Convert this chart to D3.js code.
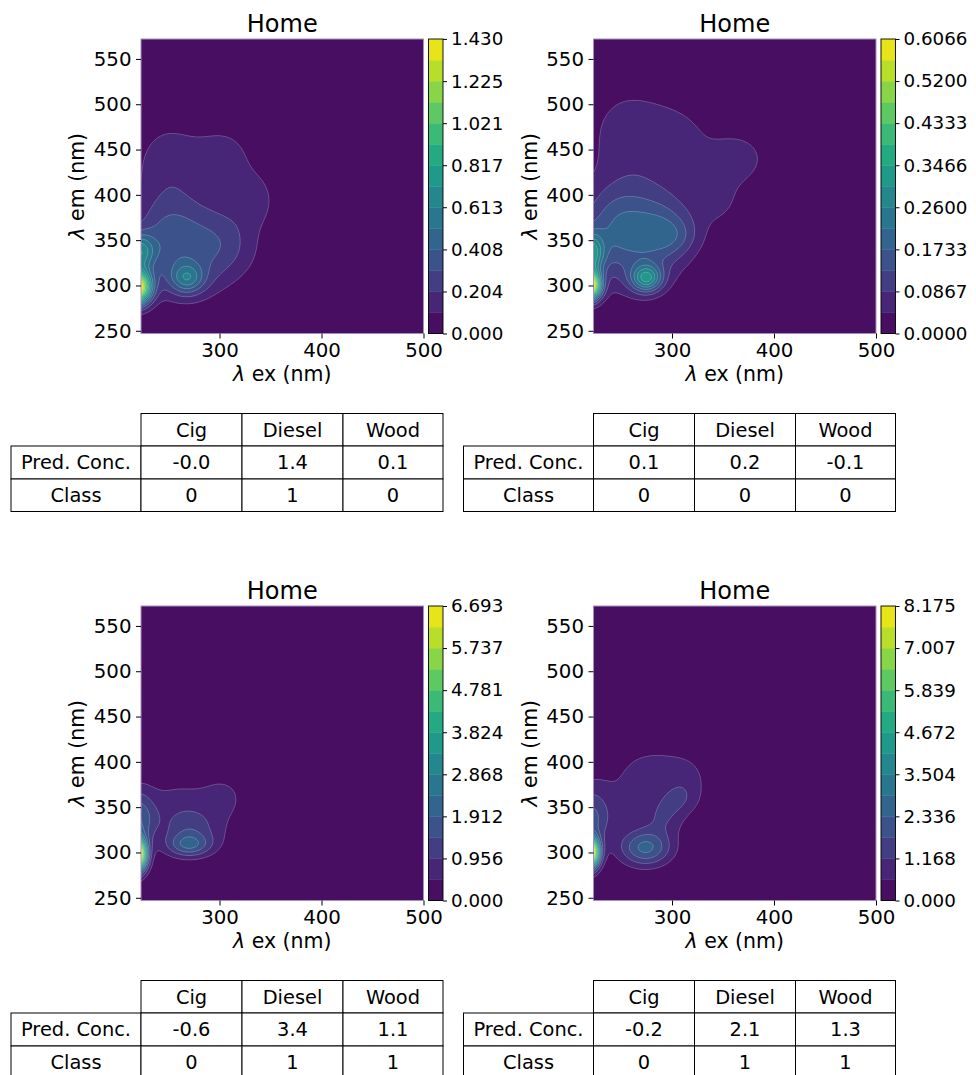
<!DOCTYPE html>
<html>
<head>
<meta charset="utf-8">
<script src="https://cdn.jsdelivr.net/npm/d3@7"></script>
<style>
  body { margin: 0; background: #ffffff; }
  svg text { font-family: "DejaVu Sans", sans-serif; fill: #000; }
</style>
</head>
<body>
<svg id="fig" width="976" height="1075"></svg>
<script>
// ---- axes ----
const exRange = [223, 500];          // excitation wavelength (nm)
const emRange = [247, 572];          // emission wavelength (nm)
const xTicks = [300, 400, 500];
const yTicks = [250, 300, 350, 400, 450, 500, 550];

// ---- panels ----
const panelTitles = ["Home", "Home", "Home", "Home"];
const colorMax = [1.4296, 0.6066, 6.693, 8.175];
const cbarLabels1 = ["0.000", "0.204", "0.408", "0.613", "0.817", "1.021", "1.225", "1.430"];
const cbarLabels2 = ["0.0000", "0.0867", "0.1733", "0.2600", "0.3466", "0.4333", "0.5200", "0.6066"];
const cbarLabels3 = ["0.000", "0.956", "1.912", "2.868", "3.824", "4.781", "5.737", "6.693"];
const cbarLabels4 = ["0.000", "1.168", "2.336", "3.504", "4.672", "5.839", "7.007", "8.175"];

// fluorescence components of each EEM: [ex, em, sdEx, sdEm, height]
const peaks1 = [
  [218, 298, 10, 13, 1.53],
  [220, 337, 11, 14, 0.55],
  [268, 308, 11, 11, 0.33],
  [270, 305, 20, 18, 0.12],
  [250, 350, 25, 35, 0.33],
  [300, 345, 26, 30, 0.26],
  [250, 435, 25, 35, 0.15],
  [305, 435, 22, 30, 0.15],
  [335, 395, 14, 20, 0.13]
];
const peaks2 = [
  [218, 300, 8, 11, 0.67],
  [220, 335, 9, 16, 0.27],
  [275, 308, 10, 10, 0.22],
  [275, 308, 16, 15, 0.05],
  [300, 355, 18, 14, 0.05],
  [250, 360, 28, 38, 0.18],
  [295, 360, 22, 30, 0.11],
  [255, 468, 28, 38, 0.06],
  [305, 455, 28, 35, 0.058],
  [365, 440, 20, 20, 0.065],
  [345, 395, 18, 22, 0.05]
];
const peaks3 = [
  [218, 298, 7, 13, 8.35],
  [220, 335, 12, 17, 1.4],
  [220, 360, 10, 15, 0.4],
  [270, 308, 15, 9, 1.5],
  [270, 325, 16, 15, 0.65],
  [262, 345, 35, 28, 0.7],
  [305, 362, 14, 16, 0.4],
  [295, 320, 14, 16, 0.2]
];
const peaks4 = [
  [218, 300, 7, 12, 10.16],
  [220, 335, 14, 18, 1.5],
  [220, 360, 12, 18, 0.45],
  [274, 305, 18, 14, 2.4],
  [292, 338, 14, 14, 0.75],
  [306, 358, 14, 12, 0.65],
  [262, 360, 35, 30, 0.6],
  [285, 400, 30, 20, 0.45],
  [315, 378, 15, 18, 0.55]
];

// ---- prediction tables ----
const sources = ["Cig", "Diesel", "Wood"];
const rowLabels = ["Pred. Conc.", "Class"];
const predConc1 = ["-0.0", "1.4", "0.1"];
const predConc2 = ["0.1", "0.2", "-0.1"];
const predConc3 = ["-0.6", "3.4", "1.1"];
const predConc4 = ["-0.2", "2.1", "1.3"];
const class1 = ["0", "1", "0"];
const class2 = ["0", "0", "0"];
const class3 = ["0", "1", "1"];
const class4 = ["0", "1", "1"];

const panels = [
  { title: panelTitles[0], max: colorMax[0], labels: cbarLabels1, peaks: peaks1, conc: predConc1, cls: class1, left: 141, top: 39 },
  { title: panelTitles[1], max: colorMax[1], labels: cbarLabels2, peaks: peaks2, conc: predConc2, cls: class2, left: 593.5, top: 39 },
  { title: panelTitles[2], max: colorMax[2], labels: cbarLabels3, peaks: peaks3, conc: predConc3, cls: class3, left: 141, top: 606 },
  { title: panelTitles[3], max: colorMax[3], labels: cbarLabels4, peaks: peaks4, conc: predConc4, cls: class4, left: 593.5, top: 606 }
];

const W = 282.5, H = 294.5;
const nLevels = 15;
const svg = d3.select("#fig");
const defs = svg.append("defs");
defs.append("clipPath").attr("id", "plotClip")
  .append("rect").attr("width", W).attr("height", H);

const x = d3.scaleLinear().domain(exRange).range([0, W]);
const y = d3.scaleLinear().domain(emRange).range([H, 0]);

// sample grid, padded past the axes so contour edges fall outside the view
const step = 1, pad = 10;
const gx0 = exRange[0] - pad, gx1 = exRange[1] + pad;
const gy0 = emRange[0] - pad, gy1 = emRange[1] + pad;
const nx = Math.round((gx1 - gx0) / step) + 1;
const ny = Math.round((gy1 - gy0) / step) + 1;

function eem(peaks, target) {
  const v = new Float64Array(nx * ny);
  let vmax = 0;
  for (let j = 0; j < ny; j++) {
    const em = gy1 - j * step;
    for (let i = 0; i < nx; i++) {
      const ex = gx0 + i * step;
      let s = 0;
      for (const [px, py, sx, sy, a] of peaks) {
        const dx = (ex - px) / sx, dy = (em - py) / sy;
        s += a * Math.exp(-0.5 * (dx * dx + dy * dy));
      }
      v[j * nx + i] = s;
      if (ex >= exRange[0] && ex <= exRange[1] && em >= emRange[0] && em <= emRange[1]) vmax = Math.max(vmax, s);
    }
  }
  const k = target / vmax;
  for (let n = 0; n < v.length; n++) v[n] = Math.min(v[n] * k, target);
  return v;
}

const gridToScreen = d3.geoTransform({
  point(gxp, gyp) {
    this.stream.point(x(gx0 + (gxp - 0.5) * step), y(gy1 - (gyp - 0.5) * step));
  }
});
const path = d3.geoPath(gridToScreen);

panels.forEach((p) => {
  const g = svg.append("g").attr("transform", `translate(${p.left},${p.top})`);
  const levels = d3.range(nLevels).map(k => p.max * k / (nLevels - 1));
  const bandColor = k => d3.interpolateViridis((k + 0.5) / (nLevels - 1));

  const values = eem(p.peaks, p.max);
  const contours = d3.contours().size([nx, ny]).thresholds(levels.slice(1, nLevels - 1))(values);

  const plot = g.append("g").attr("clip-path", "url(#plotClip)");
  plot.append("rect").attr("width", W).attr("height", H).attr("fill", bandColor(0));
  plot.selectAll("path.band").data(contours).join("path")
    .attr("class", "band")
    .attr("d", path)
    .attr("fill", (d, i) => bandColor(i + 1))
    .attr("stroke", (d, i) => bandColor(i + 1))
    .attr("stroke-width", 0.3);
  plot.selectAll("path.iso").data(contours).join("path")
    .attr("class", "iso")
    .attr("d", path)
    .attr("fill", "none")
    .attr("stroke", "#ffffff")
    .attr("stroke-opacity", 0.4)
    .attr("stroke-width", 0.6);

  g.append("rect").attr("width", W).attr("height", H)
    .attr("fill", "none").attr("stroke", "#a58fc0").attr("stroke-width", 1);

  // axes
  const xAxis = g.append("g").attr("transform", `translate(0,${H})`)
    .call(d3.axisBottom(x).tickValues(xTicks).tickSize(5).tickPadding(4));
  const yAxis = g.append("g")
    .call(d3.axisLeft(y).tickValues(yTicks).tickSize(5).tickPadding(4.5));
  [xAxis, yAxis].forEach(a => {
    a.select(".domain").remove();
    a.selectAll(".tick line").attr("stroke", "#000").attr("stroke-width", 1);
    a.selectAll(".tick text").attr("font-size", 19.8).attr("fill", "#000")
      .style("font-family", "DejaVu Sans");
  });

  g.append("text").attr("x", W / 2).attr("y", -7.5).attr("text-anchor", "middle")
    .attr("font-size", 24).text(p.title);

  const xl = g.append("text").attr("x", W / 2).attr("y", H + 47).attr("text-anchor", "middle")
    .attr("font-size", 20.5);
  xl.append("tspan").attr("font-style", "italic").text("λ");
  xl.append("tspan").text(" ex (nm)");

  const yl = g.append("text").attr("transform", `translate(-57,${H / 2}) rotate(-90)`)
    .attr("text-anchor", "middle").attr("font-size", 20.5);
  yl.append("tspan").attr("font-style", "italic").text("λ");
  yl.append("tspan").text(" em (nm)");

  // colour bar
  const cbX = 287.5, cbW = 14.5;
  const cy = d3.scaleLinear().domain([0, p.max]).range([H, 0]);
  const cb = g.append("g").attr("transform", `translate(${cbX},0)`);
  cb.selectAll("rect.lev").data(d3.range(nLevels - 1)).join("rect")
    .attr("class", "lev")
    .attr("x", 0).attr("width", cbW)
    .attr("y", k => cy(levels[k + 1]))
    .attr("height", k => cy(levels[k]) - cy(levels[k + 1]) + 0.4)
    .attr("fill", k => bandColor(k));
  cb.append("rect").attr("width", cbW).attr("height", H)
    .attr("fill", "none").attr("stroke", "#000").attr("stroke-width", 0.9);
  const cbAxis = cb.append("g").attr("transform", `translate(${cbW},0)`)
    .call(d3.axisRight(cy).tickValues(p.labels.map(Number)).tickSize(4).tickPadding(4)
      .tickFormat((d, i) => p.labels[i]));
  cbAxis.select(".domain").remove();
  cbAxis.selectAll(".tick line").attr("stroke", "#000");
  cbAxis.selectAll(".tick text").attr("font-size", 18.3).attr("fill", "#000")
    .style("font-family", "DejaVu Sans");

  // prediction table
  const colEdges = [-130, 0, 101, 202, 302];
  const rowEdges = [374.5, 407, 440, 472.5];
  const tg = g.append("g");
  const cells = [];
  sources.forEach((s, c) => cells.push({ r: 0, c: c + 1, t: s }));
  [p.conc, p.cls].forEach((vals, r) => {
    cells.push({ r: r + 1, c: 0, t: rowLabels[r] });
    vals.forEach((v, c) => cells.push({ r: r + 1, c: c + 1, t: v }));
  });
  tg.selectAll("rect").data(cells).join("rect")
    .attr("x", d => colEdges[d.c]).attr("y", d => rowEdges[d.r])
    .attr("width", d => colEdges[d.c + 1] - colEdges[d.c])
    .attr("height", d => rowEdges[d.r + 1] - rowEdges[d.r])
    .attr("fill", "#fff").attr("stroke", "#000").attr("stroke-width", 1);
  tg.selectAll("text").data(cells).join("text")
    .attr("x", d => (colEdges[d.c] + colEdges[d.c + 1]) / 2)
    .attr("y", d => (rowEdges[d.r] + rowEdges[d.r + 1]) / 2)
    .attr("dy", "0.36em")
    .attr("text-anchor", "middle").attr("font-size", 19.4)
    .text(d => d.t);
});
</script>
</body>
</html>
